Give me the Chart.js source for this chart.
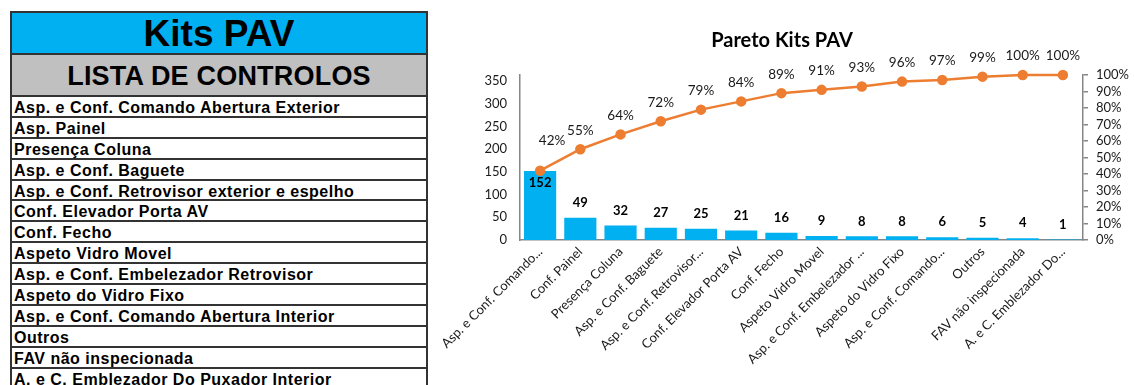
<!DOCTYPE html>
<html>
<head>
<meta charset="utf-8">
<script src="https://cdn.jsdelivr.net/npm/chart.js@4.4.1/dist/chart.umd.min.js"></script>
<style>
  html, body { margin:0; padding:0; background:#fff; width:1134px; height:385px; overflow:hidden; }
  #tbl { position:absolute; left:10px; top:11px; width:414px; border:2px solid #333; border-bottom:none; font-family:"Liberation Sans", Arial, sans-serif; color:#000; }
  .ttl { height:40px; background:#00B0F0; border-bottom:2px solid #333; text-align:center; font-weight:bold; font-size:37px; line-height:42px; }
  .sub { height:40px; background:#C0C0C0; border-bottom:2px solid #333; text-align:center; font-weight:bold; font-size:27px; line-height:42px; letter-spacing:0.2px; }
  .row { box-sizing:border-box; height:20.9px; border-bottom:2px solid #333; font-weight:bold; font-size:16px; line-height:22px; padding-left:2px; letter-spacing:0.5px; white-space:nowrap; overflow:visible; }
  #c { position:absolute; left:430px; top:0; }
</style>
</head>
<body>
<div id="tbl">
  <div class="ttl">Kits PAV</div>
  <div class="sub">LISTA DE CONTROLOS</div>
  <div id="rows"></div>
</div>
<canvas id="c" width="704" height="385"></canvas>
<script>
// ---- table list ----
const controlList = [
  "Asp. e Conf. Comando Abertura Exterior",
  "Asp. Painel",
  "Presença Coluna",
  "Asp. e Conf. Baguete",
  "Asp. e Conf. Retrovisor exterior e espelho",
  "Conf. Elevador Porta AV",
  "Conf. Fecho",
  "Aspeto Vidro Movel",
  "Asp. e Conf. Embelezador Retrovisor",
  "Aspeto do Vidro Fixo",
  "Asp. e Conf. Comando Abertura Interior",
  "Outros",
  "FAV não inspecionada",
  "A. e C. Emblezador Do Puxador Interior"
];
// ---- chart data ----
const categories = [
  "Asp. e Conf. Comando...",
  "Conf. Painel",
  "Presença Coluna",
  "Asp. e Conf. Baguete",
  "Asp. e Conf. Retrovisor...",
  "Conf. Elevador Porta AV",
  "Conf. Fecho",
  "Aspeto Vidro Movel",
  "Asp. e Conf. Embelezador ...",
  "Aspeto do Vidro Fixo",
  "Asp. e Conf. Comando...",
  "Outros",
  "FAV não inspecionada",
  "A. e C. Emblezador Do..."
];
const counts = [152, 49, 32, 27, 25, 21, 16, 9, 8, 8, 6, 5, 4, 1];
const cumulativePct = [42, 55, 64, 72, 79, 84, 89, 91, 93, 96, 97, 99, 100, 100];
const leftTicks = [0, 50, 100, 150, 200, 250, 300, 350];
const rightTicks = [0, 10, 20, 30, 40, 50, 60, 70, 80, 90, 100];

const rowsEl = document.getElementById('rows');
controlList.forEach(t => { const d = document.createElement('div'); d.className = 'row'; d.textContent = t; rowsEl.appendChild(d); });

const total = counts.reduce((a, b) => a + b, 0);
const FONT = 'Lato, "Open Sans", sans-serif';

const labelPlugin = {
  id: 'valueLabels',
  afterDatasetsDraw(chart) {
    const ctx = chart.ctx;
    ctx.save();
    ctx.textAlign = 'center';
    ctx.textBaseline = 'middle';
    // bar labels
    const barMeta = chart.getDatasetMeta(1);
    ctx.fillStyle = '#000';
    ctx.font = 'bold 13px ' + FONT;
    barMeta.data.forEach((el, i) => {
      const v = chart.data.datasets[1].data[i];
      const y = i === 0 ? el.y + 12 : el.y - 15;
      ctx.fillText(String(v), el.x, y);
    });
    // line labels
    const lineMeta = chart.getDatasetMeta(0);
    ctx.fillStyle = '#1a1a1a';
    ctx.font = '13.5px ' + FONT;
    lineMeta.data.forEach((el, i) => {
      const v = chart.data.datasets[0].data[i];
      const x = i === 0 ? el.x + 12 : el.x;
      const y = i === 0 ? el.y - 30 : el.y - 19;
      ctx.fillText(v + '%', x, y);
    });
    ctx.restore();
  }
};

new Chart(document.getElementById('c'), {
  type: 'bar',
  data: {
    labels: categories,
    datasets: [
      {
        type: 'line', data: cumulativePct, yAxisID: 'y1', order: 0,
        borderColor: '#ED7D31', backgroundColor: '#ED7D31', borderWidth: 2.5,
        pointRadius: 4, pointHoverRadius: 4, tension: 0, clip: false
      },
      {
        type: 'bar', data: counts, yAxisID: 'y', order: 1,
        backgroundColor: '#00B0F0', barPercentage: 0.8, categoryPercentage: 1
      }
    ]
  },
  options: {
    responsive: false, animation: false,
    layout: { padding: { left: 0, right: 0, top: 0, bottom: 0 } },
    plugins: {
      legend: { display: false }, tooltip: { enabled: false },
      title: { display: true, text: 'Pareto Kits PAV', color: '#000',
        font: { family: FONT, size: 20, weight: 'bold' }, padding: { top: 29, bottom: 22 } }
    },
    scales: {
      x: {
        grid: { display: false, drawTicks: false },
        border: { display: true, color: '#868686', width: 1.5 },
        ticks: { autoSkip: false, maxRotation: 45, minRotation: 45, color: '#1a1a1a', font: { family: FONT, size: 13 }, padding: 4 },
        afterFit(s) { s.height = 145; }
      },
      y: {
        position: 'left', min: 0, max: total,
        grid: { display: false, drawTicks: false },
        border: { display: true, color: '#868686', width: 1.5 },
        ticks: { autoSkip: false, color: '#1a1a1a', font: { family: FONT, size: 13 }, padding: 13 },
        afterBuildTicks(s) { s.ticks = leftTicks.map(v => ({ value: v })); },
        afterFit(s) { s.width = 90; }
      },
      y1: {
        position: 'right', min: 0, max: 100,
        grid: { display: true, drawOnChartArea: false, drawTicks: true, tickLength: 5, color: '#868686', lineWidth: 1.5 },
        border: { display: true, color: '#868686', width: 1.5 },
        ticks: { autoSkip: false, color: '#1a1a1a', font: { family: FONT, size: 13 }, padding: 8, callback: v => v + '%' },
        afterBuildTicks(s) { s.ticks = rightTicks.map(v => ({ value: v })); },
        afterFit(s) { s.width = 51; }
      }
    }
  },
  plugins: [labelPlugin]
});
</script>
</body>
</html>
